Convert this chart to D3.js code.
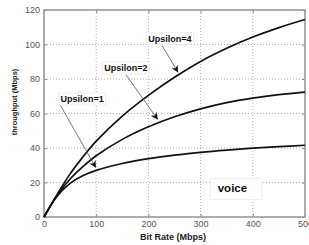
<!DOCTYPE html>
<html>
<head>
<meta charset="utf-8">
<script src="https://cdn.jsdelivr.net/npm/d3@7"></script>
<style>
  body { margin: 0; background: #fff; }
  svg { display: block; font-family: "Liberation Sans", Arial, sans-serif; }
</style>
</head>
<body>
<div id="chart"></div>
<script>
const W = 309, H = 245;
const padL = 44, padR = 305, padT = 10, padB = 217;

// values
const bitRate = [0, 25, 50, 75, 100, 150, 200, 250, 300, 350, 400, 450, 500];
const upsilon1 = [0, 12, 19.5, 24, 27, 31, 33.8, 35.9, 37.5, 38.8, 39.9, 40.8, 41.6];
const upsilon2 = [0, 12.5, 22, 29.3, 35.5, 45, 52.3, 58.1, 62.7, 66.3, 68.9, 70.9, 72.4];
const upsilon4 = [0, 13, 25, 35, 44, 58.5, 70.5, 81, 90.2, 97.8, 104.3, 109.8, 114.5];
const xTicks = [0, 100, 200, 300, 400, 500];
const yTicks = [0, 20, 40, 60, 80, 100, 120];

// annotations: label, label centre (data), arrow start (data), arrow tip (data)
const notes = [
  {text: 'Upsilon=4', at: [241, 103.5], from: [226, 99.5], to: [257, 83.8]},
  {text: 'Upsilon=2', at: [157, 86.5], from: [157, 82.5], to: [218, 56.5]},
  {text: 'Upsilon=1', at: [73, 68.5], from: [31, 65], to: [99.5, 28.5]}
];

const svg = d3.select('#chart').append('svg')
  .attr('width', W).attr('height', H);

const x = d3.scaleLinear().domain([0, 500]).range([padL, padR]);
const y = d3.scaleLinear().domain([0, 120]).range([padB, padT]);

// grid
svg.append('g').selectAll('line')
  .data(xTicks.slice(1, -1))
  .enter().append('line')
  .attr('x1', d => x(d)).attr('x2', d => x(d))
  .attr('y1', padT).attr('y2', padB)
  .attr('stroke', '#999').attr('stroke-width', 0.8)
  .attr('stroke-dasharray', '1,2');
svg.append('g').selectAll('line')
  .data(yTicks.slice(1, -1))
  .enter().append('line')
  .attr('y1', d => y(d)).attr('y2', d => y(d))
  .attr('x1', padL).attr('x2', padR)
  .attr('stroke', '#999').attr('stroke-width', 0.8)
  .attr('stroke-dasharray', '1,2');

// axes (inward ticks, MATLAB style)
const ax = svg.append('g').attr('class', 'axes');
ax.append('g').attr('transform', `translate(0,${padB})`)
  .call(d3.axisBottom(x).tickValues(xTicks).tickSize(-3).tickPadding(4).tickFormat(d3.format('d')));
ax.append('g').attr('transform', `translate(0,${padT})`)
  .call(d3.axisTop(x).tickValues(xTicks).tickSize(-3).tickFormat(''));
ax.append('g').attr('transform', `translate(${padL},0)`)
  .call(d3.axisLeft(y).tickValues(yTicks).tickSize(-3).tickPadding(4));
ax.append('g').attr('transform', `translate(${padR},0)`)
  .call(d3.axisRight(y).tickValues(yTicks).tickSize(-3).tickFormat(''));
ax.selectAll('.domain').remove();
ax.selectAll('.tick line').attr('stroke', '#888');
ax.selectAll('.tick text').attr('fill', '#555').style('font-size', '9px');

svg.append('rect')
  .attr('x', padL).attr('y', padT)
  .attr('width', padR - padL).attr('height', padB - padT)
  .attr('fill', 'none').attr('stroke', '#999').attr('stroke-width', 1.6);

// curves
const line = d3.line()
  .x((d, i) => x(bitRate[i]))
  .y(d => y(d))
  .curve(d3.curveCatmullRom.alpha(0.5));

[upsilon1, upsilon2, upsilon4].forEach(s => {
  svg.append('path')
    .datum(s)
    .attr('d', line)
    .attr('fill', 'none')
    .attr('stroke', '#111')
    .attr('stroke-width', 1.7);
});

// arrows
svg.append('defs').append('marker')
  .attr('id', 'head')
  .attr('viewBox', '0 0 10 10')
  .attr('refX', 10).attr('refY', 5)
  .attr('markerWidth', 7).attr('markerHeight', 7)
  .attr('markerUnits', 'userSpaceOnUse')
  .attr('orient', 'auto')
  .append('path')
  .attr('d', 'M0,0 L10,5 L0,10 L3,5 Z')
  .attr('fill', '#111');

notes.forEach(n => {
  svg.append('line')
    .attr('x1', x(n.from[0])).attr('y1', y(n.from[1]))
    .attr('x2', x(n.to[0])).attr('y2', y(n.to[1]))
    .attr('stroke', '#555').attr('stroke-width', 0.8)
    .attr('marker-end', 'url(#head)');
});

notes.forEach(n => {
  const g = svg.append('g');
  const t = g.append('text')
    .attr('x', x(n.at[0])).attr('y', y(n.at[1]))
    .attr('text-anchor', 'middle')
    .attr('dy', '0.35em')
    .style('font-size', '9px')
    .style('font-weight', 'bold')
    .attr('fill', '#111')
    .text(n.text);
  const b = t.node().getBBox();
  g.insert('rect', 'text')
    .attr('x', b.x - 2).attr('y', b.y - 1)
    .attr('width', b.width + 4).attr('height', b.height + 2)
    .attr('fill', '#fff').attr('stroke', '#e4e4e4').attr('stroke-width', 0.6);
});

// voice box
const vg = svg.append('g');
vg.append('rect')
  .attr('x', x(319)).attr('y', y(22.5))
  .attr('width', x(417) - x(319)).attr('height', y(10) - y(22.5))
  .attr('fill', '#fff').attr('stroke', '#e4e4e4').attr('stroke-width', 0.6);
vg.append('text')
  .attr('x', x(361)).attr('y', y(16.6))
  .attr('text-anchor', 'middle').attr('dy', '0.35em')
  .style('font-size', '11.5px').style('font-weight', 'bold')
  .attr('fill', '#111')
  .text('voice');

// axis titles
svg.append('text')
  .attr('x', 173).attr('y', 240)
  .attr('text-anchor', 'middle')
  .style('font-size', '9px').style('font-weight', 'bold')
  .attr('fill', '#222')
  .text('Bit Rate (Mbps)');
svg.append('text')
  .attr('transform', 'translate(17,102) rotate(-90)')
  .attr('text-anchor', 'middle')
  .style('font-size', '7.5px').style('font-weight', 'bold')
  .attr('fill', '#222')
  .text('throughput (Mbps)');
</script>
</body>
</html>
